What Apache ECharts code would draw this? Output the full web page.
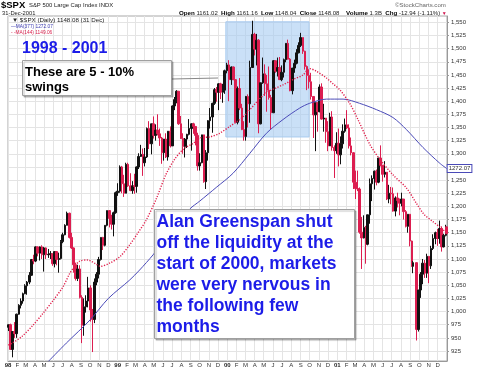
<!DOCTYPE html>
<html><head><meta charset="utf-8">
<script src="https://cdn.jsdelivr.net/npm/echarts@6/dist/echarts.min.js"></script>
<style>html,body{margin:0;padding:0;background:#fff}#c{width:480px;height:373px}</style>
</head><body><div id="c"></div>
<script>
// Weekly bars: [date(MM-DD), open, high, low, close]
const bars1998 = [
['01-02',970,975,963,975],['01-09',975,977,927,928],['01-16',928,963,913,962],['01-23',962,980,950,958],
['01-30',958,996,950,995],['02-06',995,1014,994,1012],['02-13',1012,1025,1006,1020],['02-20',1020,1036,1015,1034],
['02-27',1034,1052,1033,1049],['03-06',1049,1058,1032,1056],['03-13',1056,1075,1052,1069],['03-20',1069,1100,1068,1099],
['03-27',1099,1108,1090,1096],['04-03',1096,1124,1094,1123],['04-09',1123,1124,1105,1111],['04-17',1111,1124,1097,1123],
['04-24',1123,1126,1100,1108],['05-01',1108,1123,1076,1121],['05-08',1121,1122,1100,1108],['05-15',1108,1119,1102,1109],
['05-22',1109,1115,1100,1110],['05-29',1110,1110,1087,1091],['06-05',1091,1114,1084,1114],['06-12',1114,1115,1088,1099],
['06-19',1099,1112,1074,1101],['06-26',1101,1136,1099,1133],['07-02',1133,1150,1130,1146],['07-10',1146,1166,1145,1164],
['07-17',1164,1190,1164,1187],['07-24',1187,1188,1139,1141],['07-31',1141,1150,1119,1121],['08-07',1121,1122,1074,1089],
['08-14',1089,1093,1059,1063],['08-21',1063,1089,1058,1081],['08-28',1081,1088,1025,1027],['09-04',1027,1031,940,974],
['09-11',974,1025,954,1009],['09-18',1009,1031,998,1020],['09-25',1020,1066,1008,1045],['10-02',1045,1050,981,1003],
['10-09',1003,1005,923,985],['10-16',985,1063,978,1056],['10-23',1056,1075,1050,1071],['10-30',1071,1104,1063,1099],
['11-06',1099,1141,1097,1141],['11-13',1141,1142,1117,1126],['11-20',1126,1164,1124,1164],['11-27',1164,1192,1162,1192],
['12-04',1192,1193,1160,1177],['12-11',1177,1184,1156,1166],['12-18',1166,1190,1143,1188],['12-24',1188,1228,1186,1226],
['12-31',1226,1244,1220,1229]
];
const bars1999 = [
['01-08',1229,1278,1226,1275],['01-15',1275,1277,1225,1243],['01-22',1243,1260,1218,1225],['01-29',1225,1283,1225,1280],
['02-05',1280,1283,1237,1239],['02-12',1239,1263,1229,1230],['02-19',1230,1248,1224,1239],['02-26',1239,1262,1224,1238],
['03-05',1238,1276,1226,1275],['03-12',1275,1301,1271,1295],['03-19',1295,1317,1294,1299],['03-26',1299,1310,1258,1283],
['04-01',1283,1311,1276,1294],['04-09',1294,1350,1292,1348],['04-16',1348,1362,1309,1319],['04-23',1319,1357,1299,1357],
['04-30',1357,1371,1329,1335],['05-07',1335,1356,1325,1345],['05-14',1345,1375,1335,1338],['05-21',1338,1348,1315,1330],
['05-28',1330,1332,1281,1302],['06-04',1302,1328,1287,1328],['06-11',1328,1339,1292,1294],['06-18',1294,1343,1287,1343],
['06-25',1343,1352,1312,1315],['07-02',1315,1392,1315,1391],['07-09',1391,1408,1383,1403],['07-16',1403,1421,1396,1419],
['07-23',1419,1419,1355,1357],['07-30',1357,1372,1328,1329],['08-06',1329,1339,1300,1314],['08-13',1314,1330,1293,1328],
['08-20',1328,1338,1311,1337],['08-27',1337,1366,1335,1348],['09-03',1348,1358,1306,1357],['09-10',1357,1359,1338,1352],
['09-17',1352,1352,1316,1335],['09-24',1335,1340,1268,1277],['10-01',1277,1301,1268,1283],['10-08',1283,1336,1282,1336],
['10-15',1336,1336,1245,1247],['10-22',1247,1307,1233,1302],['10-29',1302,1364,1287,1363],['11-05',1363,1387,1348,1370],
['11-12',1370,1397,1340,1396],['11-19',1396,1425,1393,1422],['11-26',1422,1427,1399,1417],['12-03',1417,1434,1383,1433],
['12-10',1433,1435,1404,1417],['12-17',1417,1433,1397,1421],['12-23',1421,1460,1414,1458],['12-31',1458,1473,1453,1469]
];
const bars2000 = [
['01-07',1469,1478,1400,1441],['01-14',1441,1466,1431,1465],['01-21',1465,1466,1440,1441],['01-28',1441,1442,1360,1360],
['02-04',1360,1428,1356,1424],['02-11',1424,1444,1383,1387],['02-18',1387,1395,1345,1346],['02-25',1346,1362,1325,1333],
['03-03',1333,1410,1325,1409],['03-10',1409,1413,1350,1395],['03-17',1395,1477,1359,1464],['03-24',1464,1553,1465,1527],
['03-31',1527,1530,1487,1499],['04-07',1499,1528,1468,1516],['04-14',1516,1518,1339,1357],['04-20',1357,1435,1356,1435],
['04-28',1435,1483,1433,1452],['05-05',1452,1470,1410,1433],['05-12',1433,1450,1380,1421],['05-19',1421,1466,1403,1407],
['05-26',1407,1412,1346,1378],['06-02',1378,1478,1378,1477],['06-09',1477,1477,1454,1457],['06-16',1457,1483,1447,1464],
['06-23',1464,1484,1441,1441],['06-30',1441,1468,1438,1455],['07-07',1455,1481,1445,1479],['07-14',1479,1510,1474,1510],
['07-21',1510,1517,1479,1480],['07-28',1480,1482,1419,1420],['08-04',1420,1463,1413,1463],['08-11',1463,1479,1454,1472],
['08-18',1472,1499,1470,1492],['08-25',1492,1512,1491,1506],['09-01',1506,1530,1503,1521],['09-08',1521,1521,1490,1495],
['09-15',1495,1496,1460,1466],['09-22',1466,1468,1421,1449],['09-29',1449,1460,1424,1437],['10-06',1437,1454,1403,1409],
['10-13',1409,1409,1330,1374],['10-20',1374,1397,1305,1397],['10-27',1397,1398,1342,1380],['11-03',1380,1432,1379,1427],
['11-10',1427,1434,1365,1366],['11-17',1366,1395,1342,1368],['11-24',1368,1368,1321,1342],['12-01',1342,1362,1305,1315],
['12-08',1315,1378,1315,1370],['12-15',1370,1381,1306,1312],['12-22',1312,1316,1254,1306],['12-29',1306,1341,1300,1320]
];
const bars2001 = [
['01-05',1320,1348,1276,1298],['01-12',1298,1333,1280,1319],['01-19',1319,1356,1310,1343],['01-26',1343,1367,1340,1355],
['02-02',1355,1383,1347,1349],['02-09',1349,1356,1310,1315],['02-16',1315,1331,1297,1302],['02-23',1302,1303,1233,1246],
['03-02',1246,1268,1214,1234],['03-09',1234,1268,1229,1233],['03-16',1233,1236,1148,1151],['03-23',1151,1180,1081,1140],
['03-30',1140,1183,1139,1160],['04-06',1160,1163,1091,1128],['04-12',1128,1184,1126,1184],['04-20',1184,1253,1167,1243],
['04-27',1243,1259,1210,1253],['05-04',1253,1268,1232,1267],['05-11',1267,1270,1240,1246],['05-18',1246,1292,1244,1292],
['05-25',1292,1316,1276,1278],['06-01',1278,1278,1247,1261],['06-08',1261,1286,1255,1265],['06-15',1265,1265,1212,1214],
['06-22',1214,1241,1206,1225],['06-29',1225,1237,1204,1224],['07-06',1224,1236,1190,1191],['07-13',1191,1219,1181,1216],
['07-20',1216,1226,1198,1211],['07-27',1211,1215,1183,1206],['08-03',1206,1226,1200,1214],['08-10',1214,1214,1175,1190],
['08-17',1190,1193,1160,1162],['08-24',1162,1185,1150,1185],['08-31',1185,1185,1124,1134],['09-07',1134,1135,1085,1086],
['09-10',1086,1096,1073,1093],['09-21',1093,1093,945,966],['09-28',966,1041,962,1041],['10-05',1041,1075,1026,1071],
['10-12',1071,1100,1052,1092],['10-19',1092,1098,1064,1073],['10-26',1073,1110,1064,1105],['11-02',1105,1105,1054,1087],
['11-09',1087,1125,1081,1120],['11-16',1120,1147,1117,1139],['11-23',1139,1152,1128,1150],['11-30',1150,1157,1125,1139],
['12-07',1139,1173,1129,1158],['12-14',1158,1162,1114,1123],['12-21',1123,1148,1122,1145],['12-28',1145,1165,1143,1161],
['12-31',1161,1161,1148,1148]
];
// Moving averages
const ma377Dates = ['1998-05-15','1998-07-14','1998-10-01','1998-12-01','1999-02-10','1999-03-15','1999-04-29','1999-06-30','1999-08-29','1999-10-01','1999-11-25','2000-01-20','2000-03-16','2000-05-10','2000-07-04','2000-08-29','2000-10-01','2000-11-26','2001-01-20','2001-03-16','2001-05-11','2001-07-05','2001-08-19','2001-10-13','2001-12-08','2001-12-31'];
const ma377Values = [905,940,984,1025,1060,1079,1108,1153,1195,1210,1236,1263,1301,1339,1365,1387,1396,1404,1404,1396,1384,1369,1346,1312,1282,1272];
const ma144Dates = ['1998-01-02','1998-01-15','1998-02-15','1998-03-25','1998-04-28','1998-05-31','1998-07-03','1998-07-25','1998-08-11','1998-08-28','1998-09-23','1998-10-22','1998-11-05','1998-12-05','1999-01-08','1999-02-10','1999-03-10','1999-04-06','1999-05-10','1999-06-10','1999-07-10','1999-08-10','1999-09-10','1999-10-01','1999-11-03','1999-12-06','2000-01-09','2000-02-11','2000-03-10','2000-04-10','2000-05-10','2000-06-10','2000-07-04','2000-08-06','2000-09-09','2000-10-01','2000-10-23','2000-11-26','2000-12-20','2001-01-09','2001-02-11','2001-03-10','2001-04-19','2001-05-22','2001-07-05','2001-08-19','2001-09-21','2001-10-15','2001-11-15','2001-12-10','2001-12-31'];
const ma144Values = [936,940,952,974,997,1021,1047,1072,1086,1096,1098,1090,1086,1092,1104,1127,1150,1174,1215,1260,1290,1310,1320,1330,1332,1339,1352,1365,1380,1400,1416,1425,1431,1441,1450,1462,1457,1444,1432,1422,1396,1366,1318,1290,1260,1235,1206,1186,1171,1160,1149];
const yTicks = [925,950,975,1000,1025,1050,1075,1100,1125,1150,1175,1200,1225,1250,1275,1300,1325,1350,1375,1400,1425,1450,1475,1500,1525,1550];
const monthInitials = ['J','F','M','A','M','J','J','A','S','O','N','D'];
const yearLabels = ['98','99','00','01'];
const years = [1998,1999,2000,2001];
const highlightDates = ['1999-12-27','2000-09-29'];
const highlightLevels = [1551,1332];
const lastDate = '2001-12-31';
const lastClose = 1148.08;
const lastMA377Label = '1272.07';

const ts = s => Date.parse(s + 'T00:00:00Z');
const allBars = [].concat(
  bars1998.map(r => ['1998-' + r[0]].concat(r.slice(1))),
  bars1999.map(r => ['1999-' + r[0]].concat(r.slice(1))),
  bars2000.map(r => ['2000-' + r[0]].concat(r.slice(1))),
  bars2001.map(r => ['2001-' + r[0]].concat(r.slice(1)))
);
// candlestick: [time, open, close, low, high]
const candleData = allBars.map(r => [ts(r[0]), r[1], r[4], r[3], r[2]]);
const monthTicks = [];
years.forEach(y => { for (let m = 0; m < 12; m++) monthTicks.push(Date.UTC(y, m, 1)); });

const BLUE_TXT = '#1c1ce8';
const FONT = 'Liberation Sans, Arial, sans-serif';
const chart = echarts.init(document.getElementById('c'), null, {renderer: 'canvas'});
chart.setOption({
  animation: false,
  backgroundColor: '#fff',
  grid: {left: 8, right: 33, top: 16, bottom: 12, show: true, borderColor: '#a8a8a8', borderWidth: 1, outerBoundsMode: 'none'},
  xAxis: {
    type: 'value', min: Date.UTC(1998,0,1), max: Date.UTC(2002,0,1),
    axisLine: {show: true, onZero: false, lineStyle: {color: '#999'}},
    axisTick: {show: false, customValues: monthTicks},
    splitLine: {show: true, lineStyle: {color: '#e4e4e4', width: 1}},
    axisLabel: {
      customValues: monthTicks, margin: 1, fontSize: 6, color: '#333', fontFamily: FONT,
      formatter: v => { const d = new Date(v); const m = d.getUTCMonth();
        return m === 0 ? '{y|' + yearLabels[years.indexOf(d.getUTCFullYear())] + '}' : monthInitials[m]; },
      rich: {y: {fontWeight: 'bold', fontSize: 6, color: '#222', fontFamily: FONT}}
    }
  },
  yAxis: {
    type: 'value', position: 'right', min: 906, max: 1562,
    axisLine: {show: true, lineStyle: {color: '#999'}},
    axisTick: {show: true, length: 2, customValues: yTicks, lineStyle: {color: '#999'}},
    splitLine: {show: true, lineStyle: {color: '#e4e4e4', width: 1}},
    axisLabel: {customValues: yTicks, margin: 4, fontSize: 6, color: '#333', fontFamily: FONT}
  },
  series: [
    {
      type: 'line', name: 'highlight', data: [], z: 1, silent: true,
      markArea: {silent: true, itemStyle: {color: 'rgba(166,203,242,0.6)', borderColor: '#a9cbef', borderWidth: 1},
        data: [[{xAxis: ts(highlightDates[0]), yAxis: highlightLevels[0]}, {xAxis: ts(highlightDates[1]), yAxis: highlightLevels[1]}]]}
    },
    {
      type: 'candlestick', name: '$SPX', data: candleData, encode: {x: 0, y: [1,2,3,4]}, z: 3,
      barWidth: 2,
      itemStyle: {color: '#111', color0: '#dc1e50', borderColor: '#111', borderColor0: '#dc1e50', borderWidth: 1}
    },
    {
      type: 'line', name: 'MA(377)', data: ma377Dates.map((d,i) => [ts(d), ma377Values[i]]), z: 4,
      showSymbol: false, smooth: 0.3, lineStyle: {color: '#4a4ab8', width: 1},
      endLabel: {show: true, formatter: () => lastMA377Label, distance: 1, fontSize: 6, color: '#333',
        backgroundColor: '#fff', borderColor: '#4a4ab8', borderWidth: 1, padding: [1,1,0,1], fontFamily: FONT}
    },
    {
      type: 'line', name: 'MA(144)', data: ma144Dates.map((d,i) => [ts(d), ma144Values[i]]), z: 4,
      showSymbol: false, smooth: 0.3, lineStyle: {color: '#e0204c', width: 1.4, type: [1.2, 1.5]}
    },
    {
      type: 'scatter', name: 'last', data: [[ts(lastDate), lastClose]], z: 5, symbolSize: 1, itemStyle: {opacity: 0},
      label: {show: true, position: 'right', distance: 0, formatter: () => lastClose.toFixed(2), fontSize: 6, fontWeight: 'bold',
        color: '#000', backgroundColor: '#fff', borderColor: '#444', borderWidth: 1, padding: [1,1,0,1], fontFamily: FONT}
    }
  ],
  graphic: [
    {type: 'text', x: 1, y: 5.5, style: {text: '$SPX', font: 'bold 9.5px ' + FONT, fill: '#000', verticalAlign: 'middle'}},
    {type: 'text', x: 29, y: 5.5, style: {text: 'S&P 500 Large Cap Index INDX', font: '5.9px ' + FONT, fill: '#222', verticalAlign: 'middle'}},
    {type: 'text', x: 2, y: 13.5, style: {text: '31-Dec-2001', font: '5.8px ' + FONT, fill: '#222', verticalAlign: 'middle'}},
    {type: 'text', x: 395, y: 5.5, style: {text: '©StockCharts.com', font: '6.1px ' + FONT, fill: '#666', verticalAlign: 'middle'}},
    {type: 'text', x: 179, y: 13.5, style: {text: '{b|Open} 1161.02  {b|High} 1161.16  {b|Low} 1148.04  {b|Close} 1148.08',
      font: '6px ' + FONT, fill: '#222', verticalAlign: 'middle',
      rich: {b: {font: 'bold 6.2px ' + FONT, fill: '#000'}}}},
    {type: 'text', x: 346, y: 13.5, style: {text: '{b|Volume} 1.3B  {b|Chg} -12.94 (-1.11%) {r|▼}',
      font: '6px ' + FONT, fill: '#222', verticalAlign: 'middle',
      rich: {b: {font: 'bold 6.2px ' + FONT, fill: '#000'}, r: {font: '5px sans-serif', fill: '#d0104a'}}}},
    {type: 'text', x: 12, y: 20.5, z: 10, style: {text: '▼ $SPX (Daily) 1148.08 (31 Dec)', font: '6.2px ' + FONT, fill: '#222', verticalAlign: 'middle'}},
    {type: 'text', x: 11, y: 26.5, z: 10, style: {text: '—MA(377) 1272.07', font: '4.8px ' + FONT, fill: '#3a3ab0', verticalAlign: 'middle'}},
    {type: 'text', x: 11, y: 32.5, z: 10, style: {text: '- -MA(144) 1149.06', font: '4.8px ' + FONT, fill: '#d81e4a', verticalAlign: 'middle'}},
    {type: 'text', x: 22, y: 49, z: 10, style: {text: '1998 - 2001', font: 'bold 16px ' + FONT, fill: BLUE_TXT, verticalAlign: 'middle'}},
    {type: 'line', z: 9, shape: {x1: 172, y1: 79, x2: 218, y2: 78}, style: {stroke: '#888', lineWidth: 1}},
    {type: 'rect', z: 10, shape: {x: 22.5, y: 60.5, width: 149, height: 35},
      style: {fill: '#fff', stroke: '#a0a0a0', lineWidth: 1, shadowColor: 'rgba(0,0,0,0.25)', shadowOffsetX: 1.5, shadowOffsetY: 1.5, shadowBlur: 1}},
    {type: 'text', x: 25, y: 64.5, z: 11, style: {text: 'These are 5 - 10%\nswings', font: 'bold 13px ' + FONT, lineHeight: 15, fill: '#000', verticalAlign: 'top'}},
    {type: 'rect', z: 10, shape: {x: 154.5, y: 209.5, width: 200, height: 129},
      style: {fill: '#fff', stroke: '#a0a0a0', lineWidth: 1, shadowColor: 'rgba(0,0,0,0.25)', shadowOffsetX: 1.5, shadowOffsetY: 1.5, shadowBlur: 1}},
    {type: 'text', x: 156.5, y: 211.2, z: 11, style: {text: 'Alan Greenspan shut\noff the liquidity at the\nstart of 2000, markets\nwere very nervous in\nthe following few\nmonths',
      font: 'bold 17.5px ' + FONT, lineHeight: 21, fill: BLUE_TXT, verticalAlign: 'top'}}
  ]
});
</script></body></html>
